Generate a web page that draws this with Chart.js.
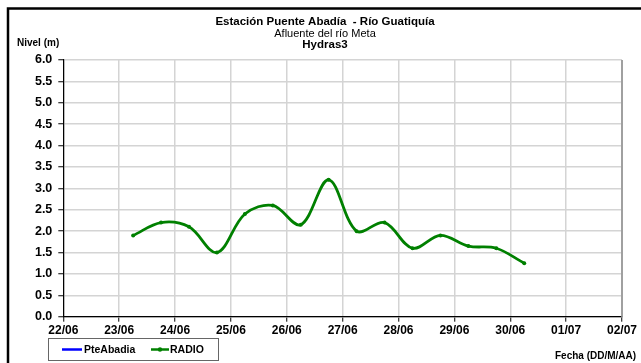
<!DOCTYPE html>
<html>
<head>
<meta charset="utf-8">
<title>Estación Puente Abadía - Río Guatiquía</title>
<script src="https://cdn.jsdelivr.net/npm/chart.js@4.4.1/dist/chart.umd.min.js"></script>
<style>
  html, body { margin: 0; padding: 0; background: #ffffff; overflow: hidden; }
  #wrap { width: 641px; height: 363px; position: relative; }
  canvas { display: block; }
</style>
</head>
<body>
<div id="wrap"><canvas id="nivel" width="641" height="363"></canvas></div>
<script>
// Axis day labels (day 0 = 22/06)
const xTickLabels = ['22/06', '23/06', '24/06', '25/06', '26/06', '27/06',
                     '28/06', '29/06', '30/06', '01/07', '02/07'];

// RADIO readings, twice a day
const sampleTimes = ['23/06 06:00', '23/06 18:00', '24/06 06:00', '24/06 18:00',
                     '25/06 06:00', '25/06 18:00', '26/06 06:00', '26/06 18:00',
                     '27/06 06:00', '27/06 18:00', '28/06 06:00', '28/06 18:00',
                     '29/06 06:00', '29/06 18:00', '30/06 06:00'];
const nivelRadio = [1.9, 2.2, 2.1, 1.5, 2.4, 2.6, 2.15, 3.2,
                    2.0, 2.2, 1.6, 1.9, 1.65, 1.6, 1.25];

// PteAbadia station: no readings in this period
const nivelPteAbadia = [];

const yMin = 0, yMax = 6, yStep = 0.5;

// day offset from the first axis label
function dayOffset(stamp) {
  const [date, time] = stamp.split(' ');
  const [dd, mm] = date.split('/').map(Number);
  const [hh, mi] = time.split(':').map(Number);
  const base = Date.UTC(2000, 5, 22);
  const t = Date.UTC(2000, mm - 1, dd, hh, mi);
  return (t - base) / 86400000;
}

const radioPoints = sampleTimes.map((s, i) => ({ x: dayOffset(s), y: nivelRadio[i] }));
const pteAbadiaPoints = nivelPteAbadia.map(p => p);

const FONT = 'Arial, "Liberation Sans", Helvetica, sans-serif';

// Frame, titles, axis captions and boxed legend
const decorations = {
  id: 'decorations',
  afterDraw(chart) {
    const ctx = chart.ctx;
    ctx.save();

    // outer black frame (top and left edges visible)
    ctx.strokeStyle = '#000000';
    ctx.lineWidth = 2.5;
    ctx.beginPath();
    ctx.moveTo(8, 380);
    ctx.lineTo(8, 8.5);
    ctx.lineTo(660, 8.5);
    ctx.stroke();

    // titles
    ctx.fillStyle = '#000000';
    ctx.textAlign = 'center';
    ctx.textBaseline = 'middle';
    ctx.font = 'bold 11.5px ' + FONT;
    ctx.fillText('Estación Puente Abadía  - Río Guatiquía', 325, 22);
    ctx.font = '11px ' + FONT;
    ctx.fillText('Afluente del río Meta', 325, 33.5);
    ctx.font = 'bold 11.5px ' + FONT;
    ctx.fillText('Hydras3', 325, 45);

    // axis captions
    ctx.textAlign = 'left';
    ctx.font = 'bold 10px ' + FONT;
    ctx.fillText('Nivel (m)', 17, 43);
    ctx.fillText('Fecha (DD/M/AA)', 555, 356);

    // legend box
    const ds = chart.data.datasets;
    ctx.strokeStyle = '#666666';
    ctx.lineWidth = 1;
    ctx.strokeRect(48.5, 338.5, 170, 22);
    const ly = 349.5;
    const items = [
      { x: 62, len: 20, tx: 84 },
      { x: 151, len: 18, tx: 170 }
    ];
    items.forEach((it, i) => {
      const d = ds[i];
      ctx.strokeStyle = d.borderColor;
      ctx.lineWidth = 2.5;
      ctx.beginPath();
      ctx.moveTo(it.x, ly);
      ctx.lineTo(it.x + it.len, ly);
      ctx.stroke();
      if (d.pointRadius > 0) {
        ctx.fillStyle = d.borderColor;
        ctx.beginPath();
        ctx.arc(it.x + it.len / 2, ly, 2.2, 0, Math.PI * 2);
        ctx.fill();
      }
      ctx.fillStyle = '#000000';
      ctx.font = 'bold 10.5px ' + FONT;
      ctx.textBaseline = 'middle';
      ctx.fillText(d.label, it.tx, ly + 0.5);
    });

    ctx.restore();
  }
};

// grey right edge of the plot area
const plotEdge = {
  id: 'plotEdge',
  beforeDatasetsDraw(chart) {
    const { ctx, chartArea: a } = chart;
    ctx.save();
    ctx.strokeStyle = '#a0a0a0';
    ctx.lineWidth = 2;
    ctx.beginPath();
    ctx.moveTo(a.right, a.top);
    ctx.lineTo(a.right, a.bottom);
    ctx.stroke();
    ctx.restore();
  }
};

new Chart(document.getElementById('nivel'), {
  type: 'line',
  data: {
    datasets: [
      {
        label: 'PteAbadia',
        data: pteAbadiaPoints,
        borderColor: '#0000ff',
        backgroundColor: '#0000ff',
        borderWidth: 2.5,
        pointRadius: 0
      },
      {
        label: 'RADIO',
        data: radioPoints,
        borderColor: '#008000',
        backgroundColor: '#008000',
        borderWidth: 2.8,
        pointRadius: 2,
        pointBorderWidth: 0,
        tension: 0.35,
        cubicInterpolationMode: 'default'
      }
    ]
  },
  options: {
    responsive: false,
    animation: false,
    devicePixelRatio: 1,
    layout: { padding: { left: 0, right: 19, top: 60, bottom: 0 } },
    plugins: {
      legend: { display: false },
      title: { display: false },
      tooltip: { enabled: false }
    },
    scales: {
      x: {
        type: 'linear',
        min: 0,
        max: xTickLabels.length - 1,
        afterBuildTicks(scale) {
          scale.ticks = xTickLabels.map((_, i) => ({ value: i }));
        },
        afterFit(scale) { scale.height = 46.3; },
        grid: {
          color: '#d4d4d4',
          lineWidth: 1.5,
          tickColor: '#000000',
          tickLength: 5,
          tickWidth: 1
        },
        border: { color: '#000000', width: 1.2 },
        ticks: {
          autoSkip: false,
          maxRotation: 0,
          padding: 2,
          color: '#000000',
          font: { family: FONT, size: 12, weight: 'bold' },
          callback: (v) => xTickLabels[Math.round(v)]
        }
      },
      y: {
        type: 'linear',
        min: yMin,
        max: yMax,
        afterFit(scale) { scale.width = 63.3; },
        grid: {
          color: '#d4d4d4',
          lineWidth: 1.5,
          tickColor: '#000000',
          tickLength: 5,
          tickWidth: 1
        },
        border: { color: '#000000', width: 1.2 },
        ticks: {
          stepSize: yStep,
          padding: 6,
          color: '#000000',
          font: { family: FONT, size: 12.5, weight: 'bold' },
          callback: (v) => Number(v).toFixed(1)
        }
      }
    }
  },
  plugins: [decorations, plotEdge]
});
</script>
</body>
</html>
